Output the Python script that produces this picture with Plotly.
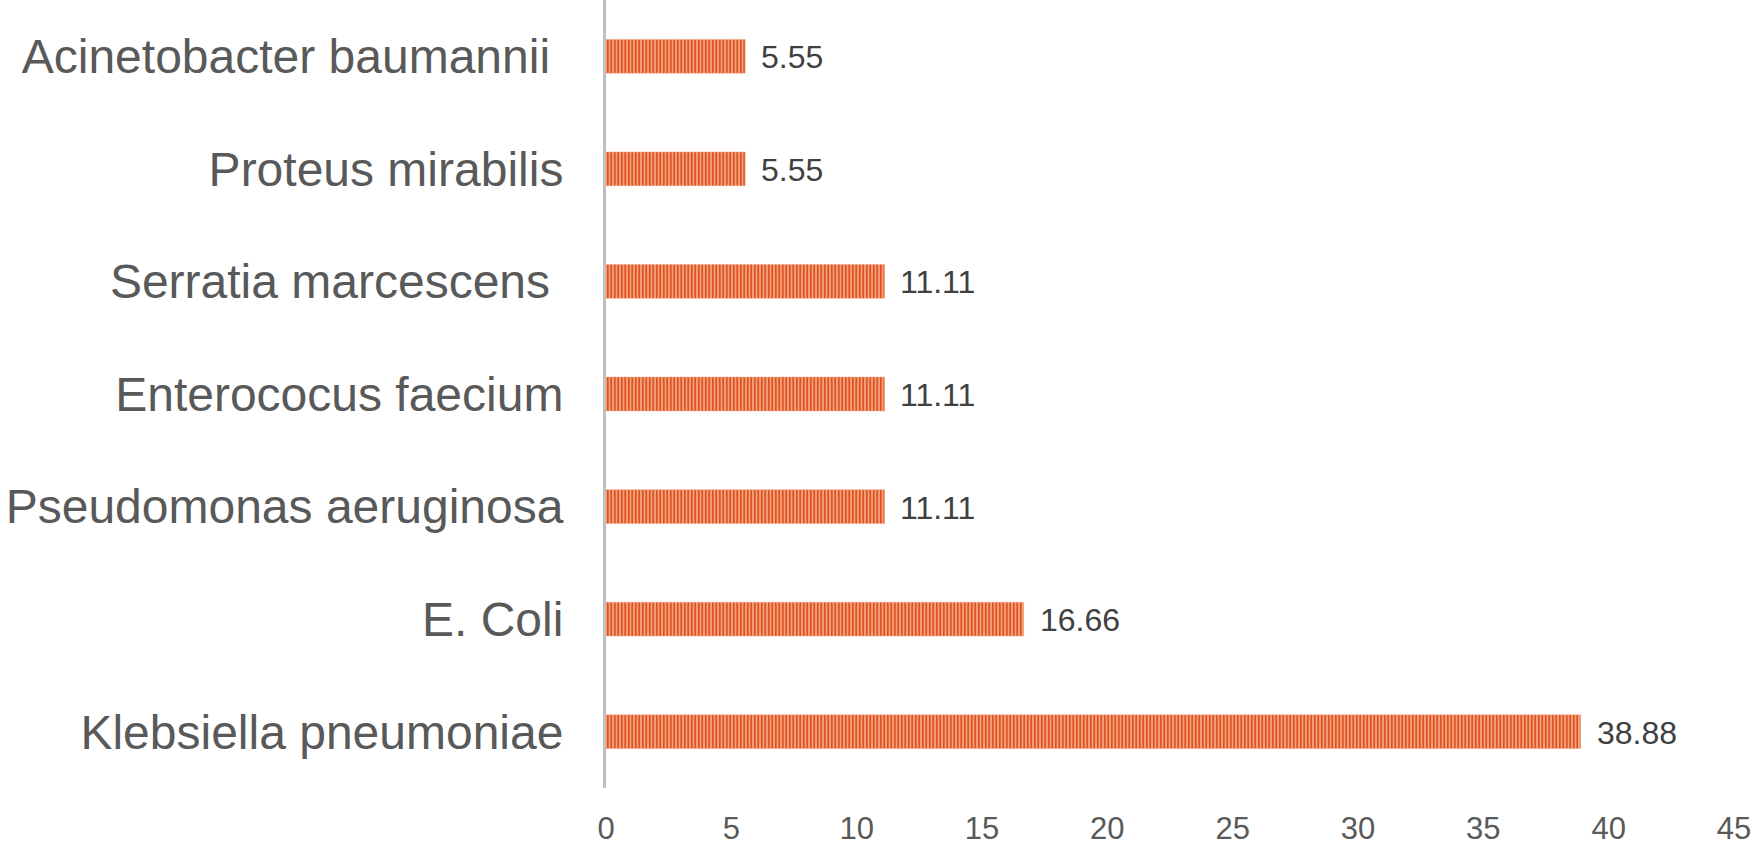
import plotly.graph_objects as go

categories = ["Klebsiella pneumoniae", "E. Coli", "Pseudomonas aeruginosa",
              "Enterococus faecium", "Serratia marcescens\u00a0", "Proteus mirabilis",
              "Acinetobacter baumannii\u00a0"]
values = [38.88, 16.66, 11.11, 11.11, 11.11, 5.55, 5.55]
x_ticks = [0, 5, 10, 15, 20, 25, 30, 35, 40, 45]

fig = go.Figure()
fig.add_trace(go.Bar(
    x=values, y=categories, orientation="h",
    marker=dict(
        color="#F4B79A",
        line=dict(color="#F0A27E", width=0.5),
        pattern=dict(shape="|", fgcolor="#E2501C", bgcolor="#F4B79A",
                     size=3.5, solidity=0.6, fillmode="replace"),
    ),
    width=0.3,
    hoverinfo="x+y",
))

for c, v in zip(categories, values):
    fig.add_annotation(x=v, y=c, text=f"{v:.2f}", showarrow=False,
                       xanchor="left", xshift=14, yshift=-1,
                       font=dict(family="Liberation Sans, Arial", size=32, color="#404040"))

fig.update_layout(
    width=1760, height=846,
    margin=dict(l=606, r=26, t=0, b=58),
    paper_bgcolor="white", plot_bgcolor="white",
    showlegend=False,
    font=dict(family="Liberation Sans, Arial", color="#595959"),
    xaxis=dict(range=[0, 45], tickvals=x_ticks, showgrid=False, zeroline=False,
               showline=False, ticks="", tickfont=dict(size=31, color="#595959"),
               ticklabelstandoff=19, automargin=False),
    yaxis=dict(categoryorder="array", categoryarray=categories,
               showgrid=False, zeroline=False, showline=True, linecolor="#BFBFBF",
               linewidth=3, ticks="", tickfont=dict(size=48, color="#595959"),
               ticklabelstandoff=30, range=[-0.5, 6.5], automargin=False),
)

fig.write_html("out.html", config={"displayModeBar": False},
               post_script="document.body.style.margin='0';document.body.style.overflow='hidden';")
